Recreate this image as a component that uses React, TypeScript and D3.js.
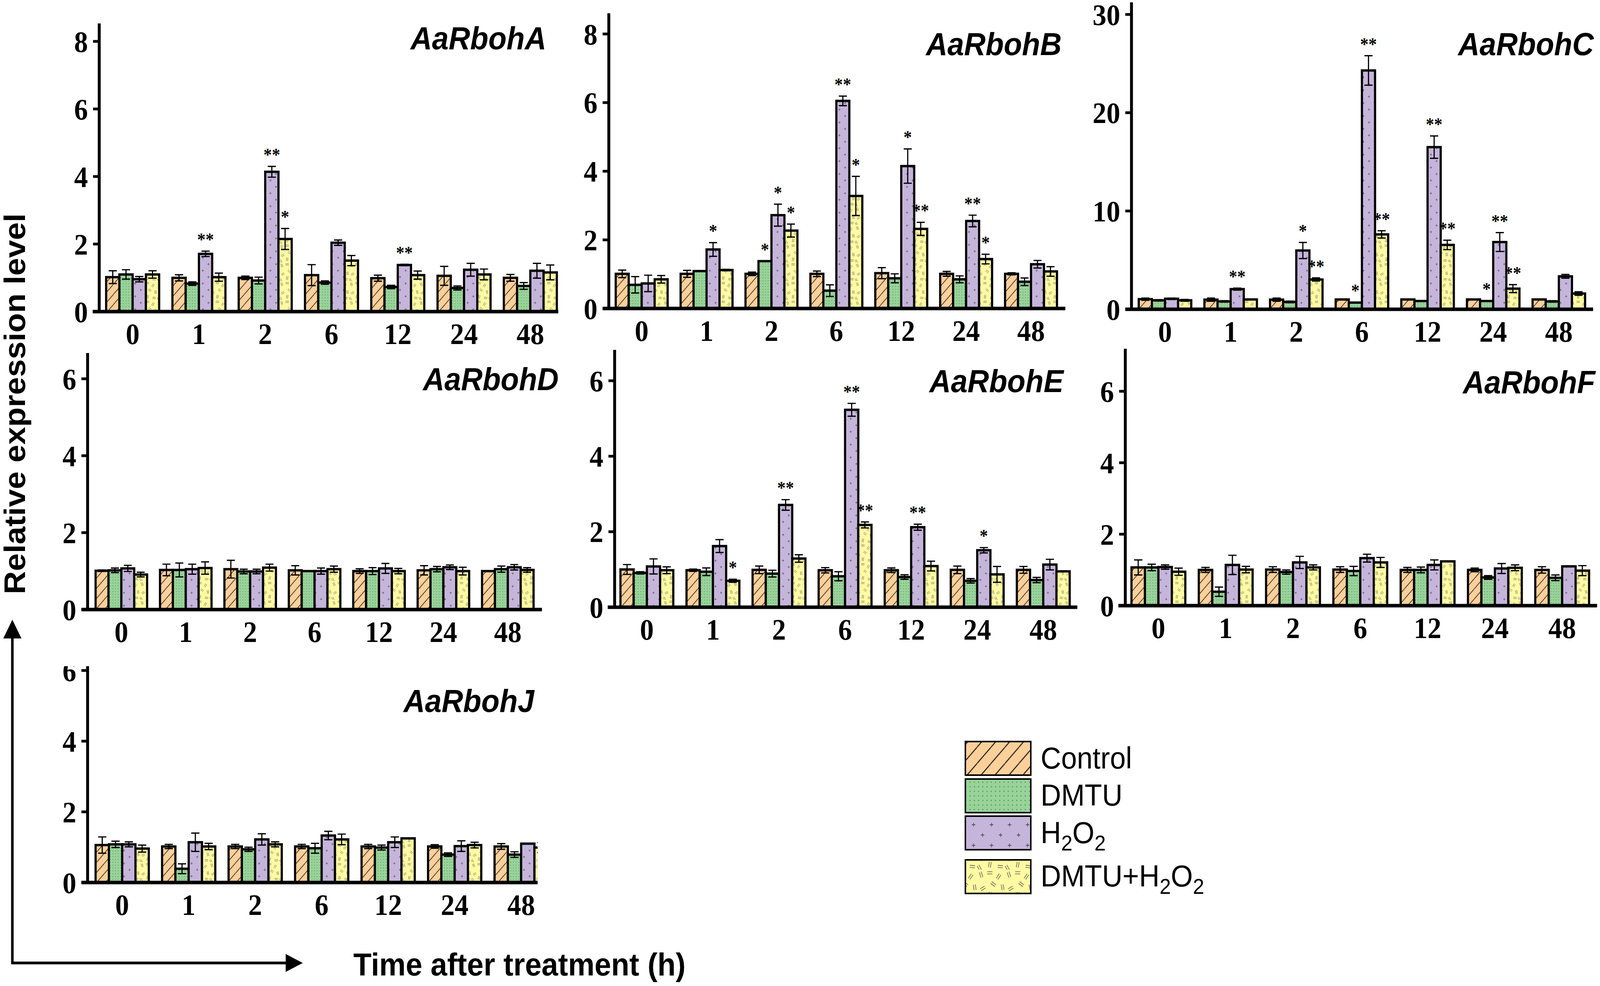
import React from "react";
import * as d3 from "d3";

// ---------- data ----------
const times = ["0", "1", "2", "6", "12", "24", "48"];
const treatments = ["Control", "DMTU", "H2O2", "DMTU+H2O2"];
const yTicksSmall = [0, 2, 4, 6];
const yTicks8 = [0, 2, 4, 6, 8];
const yTicks30 = [0, 10, 20, 30];

// rows: Control, DMTU, H2O2, DMTU+H2O2 ; columns: times
const meanA = [
  [1.02, 1.0, 1.0, 1.08, 0.99, 1.06, 1.0],
  [1.1, 0.83, 0.92, 0.86, 0.73, 0.7, 0.76],
  [0.96, 1.71, 4.14, 2.04, 1.38, 1.24, 1.21],
  [1.1, 1.02, 2.15, 1.51, 1.08, 1.1, 1.16],
];
const errA = [
  [0.19, 0.09, 0.05, 0.31, 0.09, 0.28, 0.1],
  [0.14, 0.05, 0.1, 0.05, 0.05, 0.06, 0.1],
  [0.08, 0.08, 0.16, 0.08, 0.02, 0.19, 0.22],
  [0.11, 0.12, 0.31, 0.15, 0.12, 0.16, 0.22],
];
const sigA = [[1, 2, "**"], [2, 2, "**"], [2, 3, "*"], [4, 2, "**"]];

const meanB = [
  [1.01, 1.01, 1.01, 1.01, 1.03, 1.01, 1.01],
  [0.69, 1.09, 1.38, 0.52, 0.88, 0.85, 0.78],
  [0.73, 1.72, 2.72, 6.05, 4.15, 2.55, 1.29],
  [0.85, 1.12, 2.27, 3.28, 2.32, 1.44, 1.08],
];
const errB = [
  [0.11, 0.1, 0.05, 0.08, 0.16, 0.07, 0.03],
  [0.24, 0.01, 0.0, 0.17, 0.13, 0.1, 0.11],
  [0.24, 0.2, 0.32, 0.14, 0.5, 0.17, 0.11],
  [0.11, 0.02, 0.19, 0.57, 0.19, 0.14, 0.14],
];
const sigB = [
  [1, 2, "*"], [2, 1, "*"], [2, 2, "*"], [2, 3, "*"], [3, 2, "**"], [3, 3, "*"],
  [4, 2, "*"], [4, 3, "**"], [5, 2, "**"], [5, 3, "*"],
];

const meanC = [
  [1.03, 0.98, 0.98, 1.0, 1.0, 1.0, 1.0],
  [0.91, 0.8, 0.75, 0.68, 0.84, 0.84, 0.8],
  [1.07, 2.05, 5.98, 24.3, 16.5, 6.84, 3.35],
  [0.91, 1.0, 3.03, 7.62, 6.55, 2.1, 1.6],
];
const errC = [
  [0.11, 0.16, 0.16, 0.03, 0.03, 0.02, 0.03],
  [0.07, 0.07, 0.08, 0.03, 0.02, 0.05, 0.07],
  [0.07, 0.1, 0.82, 1.5, 1.14, 0.96, 0.19],
  [0.09, 0.02, 0.16, 0.37, 0.48, 0.41, 0.18],
];
const sigC = [
  [1, 2, "**"], [2, 2, "*"], [2, 3, "**"], [3, 1, "*"], [3, 2, "**"], [3, 3, "**"],
  [4, 2, "**"], [4, 3, "**"], [5, 1, "*"], [5, 2, "**"], [5, 3, "**"],
];

const meanD = [
  [1.01, 1.03, 1.05, 1.02, 1.0, 1.02, 1.0],
  [1.02, 1.03, 0.99, 1.0, 1.0, 1.05, 1.05],
  [1.07, 1.05, 0.99, 1.0, 1.07, 1.1, 1.1],
  [0.91, 1.08, 1.09, 1.05, 1.0, 1.0, 1.03],
];
const errD = [
  [0.02, 0.15, 0.23, 0.12, 0.06, 0.12, 0.01],
  [0.06, 0.18, 0.06, 0.01, 0.09, 0.07, 0.08],
  [0.08, 0.13, 0.06, 0.08, 0.13, 0.06, 0.07],
  [0.06, 0.16, 0.09, 0.08, 0.07, 0.1, 0.06],
];
const sigD = [];

const meanE = [
  [1.0, 0.98, 0.99, 0.98, 0.98, 0.99, 0.99],
  [0.91, 0.94, 0.89, 0.82, 0.8, 0.7, 0.72],
  [1.08, 1.62, 2.71, 5.23, 2.12, 1.51, 1.13],
  [0.98, 0.7, 1.29, 2.18, 1.09, 0.87, 0.95],
];
const errE = [
  [0.13, 0.03, 0.1, 0.07, 0.06, 0.1, 0.09],
  [0.03, 0.1, 0.09, 0.12, 0.06, 0.06, 0.07],
  [0.2, 0.17, 0.14, 0.17, 0.08, 0.07, 0.14],
  [0.09, 0.04, 0.1, 0.08, 0.13, 0.21, 0.01],
];
const sigE = [[1, 3, "*"], [2, 2, "**"], [3, 2, "**"], [3, 3, "**"], [4, 2, "**"], [5, 2, "*"]];

const meanF = [
  [1.07, 1.0, 1.01, 1.01, 1.0, 1.0, 1.0],
  [1.07, 0.39, 0.94, 0.97, 1.0, 0.79, 0.78],
  [1.08, 1.14, 1.21, 1.33, 1.14, 1.04, 1.1],
  [0.95, 1.01, 1.07, 1.21, 1.24, 1.06, 0.98],
];
const errF = [
  [0.21, 0.07, 0.08, 0.08, 0.07, 0.05, 0.09],
  [0.09, 0.13, 0.06, 0.13, 0.08, 0.05, 0.08],
  [0.06, 0.27, 0.17, 0.11, 0.14, 0.14, 0.01],
  [0.1, 0.09, 0.07, 0.14, 0.01, 0.08, 0.14],
];
const sigF = [];

const meanJ = [
  [1.06, 1.02, 1.02, 1.02, 1.02, 1.02, 1.02],
  [1.08, 0.39, 0.94, 0.97, 0.99, 0.79, 0.79],
  [1.08, 1.14, 1.22, 1.33, 1.14, 1.03, 1.1],
  [0.96, 1.02, 1.08, 1.22, 1.25, 1.06, 0.99],
];
const errJ = [
  [0.23, 0.06, 0.06, 0.06, 0.06, 0.05, 0.08],
  [0.09, 0.14, 0.06, 0.14, 0.07, 0.05, 0.08],
  [0.07, 0.26, 0.16, 0.12, 0.15, 0.15, 0.01],
  [0.1, 0.09, 0.07, 0.15, 0.01, 0.08, 0.14],
];
const sigJ = [];

const legendLabels = ["Control", "DMTU", "H2O2", "DMTU+H2O2"];

// ---------- layout ----------
const W = 4402;
const H = 2525;
const SERIF = "'Liberation Serif', 'Times New Roman', serif";
const SANS = "'Liberation Sans', Arial, sans-serif";

const panels = [
  { gene: "AaRbohA", mean: meanA, err: errA, sig: sigA, ticks: yTicks8, axisX: 273, axisTop: 60, y0: 798, tickTopPx: 106, gStart: 292, gEnd: 1532, xStart: 255, xEnd: 1536, titleX: 1503, titleY: 126 },
  { gene: "AaRbohB", mean: meanB, err: errB, sig: sigB, ticks: yTicks8, axisX: 1675, axisTop: 34, y0: 790, tickTopPx: 87, gStart: 1694, gEnd: 2908, xStart: 1658, xEnd: 2931, titleX: 2921, titleY: 141 },
  { gene: "AaRbohC", mean: meanC, err: errC, sig: sigC, ticks: yTicks30, axisX: 3113, axisTop: 6, y0: 792, tickTopPx: 37, gStart: 3133, gEnd: 4361, xStart: 3096, xEnd: 4383, titleX: 4385, titleY: 141 },
  { gene: "AaRbohD", mean: meanD, err: errD, sig: sigD, ticks: yTicksSmall, axisX: 241, axisTop: 904, y0: 1561, tickTopPx: 970, gStart: 263, gEnd: 1468, xStart: 224, xEnd: 1491, titleX: 1537, titleY: 999 },
  { gene: "AaRbohE", mean: meanE, err: errE, sig: sigE, ticks: yTicksSmall, axisX: 1691, axisTop: 896, y0: 1555, tickTopPx: 975, gStart: 1707, gEnd: 2943, xStart: 1672, xEnd: 2964, titleX: 2926, titleY: 1004 },
  { gene: "AaRbohF", mean: meanF, err: errF, sig: sigF, ticks: yTicksSmall, axisX: 3096, axisTop: 893, y0: 1551, tickTopPx: 1002, gStart: 3113, gEnd: 4372, xStart: 3077, xEnd: 4394, titleX: 4389, titleY: 1007 },
  { gene: "AaRbohJ", mean: meanJ, err: errJ, sig: sigJ, ticks: yTicksSmall, axisX: 241, axisTop: 1700, y0: 2260, tickTopPx: 1717, gStart: 263, gEnd: 1507, xStart: 224, xEnd: 1510, titleX: 1470, titleY: 1823, clip: "clipJ" },
];

const fillIds = ["pCtrl", "pDmtu", "pH2o2", "pMix"];
const baseColors = ["#FDD09A", "#98D49A", "#C6B5DB", "#FFFBA3"];

function pairPath(cx, cy, ang, len = 9, gap = 1.7) {
  const a = (ang * Math.PI) / 180;
  const dx = (Math.cos(a) * len) / 2;
  const dy = (Math.sin(a) * len) / 2;
  const px = -Math.sin(a) * gap;
  const py = Math.cos(a) * gap;
  return `M${cx - dx + px},${cy - dy + py}L${cx + dx + px},${cy + dy + py}M${cx - dx - px},${cy - dy - py}L${cx + dx - px},${cy + dy - py}`;
}

const mixMarks = [
  [7, 8, 70], [22, 5, 0], [37, 11, 125], [44, 28, 80], [28, 23, 35],
  [10, 30, 150], [22, 40, 100], [40, 43, 5], [4, 45, 60],
];

function Patterns({ suffix, scale }) {
  const t = scale !== 1 ? `scale(${scale})` : undefined;
  const plus = (x, y) => `M${x - 3},${y}L${x + 3},${y}M${x},${y - 3}L${x},${y + 3}`;
  return (
    <>
      <pattern id={`pCtrl${suffix}`} patternUnits="userSpaceOnUse" width={24} height={26} patternTransform={t}>
        <rect width={24} height={26} fill={baseColors[0]} />
        <path d="M0,26L24,0M-24,26L0,0M24,26L48,0" stroke="#1a1a1a" strokeWidth={1.6} />
      </pattern>
      <pattern id={`pDmtu${suffix}`} patternUnits="userSpaceOnUse" width={7.3} height={7.3} patternTransform={t}>
        <rect width={7.3} height={7.3} fill={baseColors[1]} />
        <circle cx={3.65} cy={3.65} r={1.1} fill="#5e8f63" />
      </pattern>
      <pattern id={`pH2o2${suffix}`} patternUnits="userSpaceOnUse" width={31} height={33} patternTransform={t}>
        <rect width={31} height={33} fill={baseColors[2]} />
        <path
          d={[plus(0, 0), plus(31, 0), plus(0, 33), plus(31, 33), plus(15.5, 16.5)].join("")}
          stroke="#4a4a4a"
          strokeWidth={1.1}
        />
      </pattern>
      <pattern id={`pMix${suffix}`} patternUnits="userSpaceOnUse" width={48} height={48} patternTransform={t}>
        <rect width={48} height={48} fill={baseColors[3]} />
        <path d={mixMarks.map((m) => pairPath(m[0], m[1], m[2])).join("")} stroke="#555" strokeWidth={1} />
      </pattern>
    </>
  );
}

function Panel({ p }) {
  const x = d3.scaleBand().domain(times).range([p.gStart, p.gEnd]).paddingInner(0.2).paddingOuter(0);
  const xi = d3.scaleBand().domain(treatments).range([0, x.bandwidth()]);
  const topTick = p.ticks[p.ticks.length - 1];
  const y = d3.scaleLinear().domain([0, topTick]).range([p.y0, p.tickTopPx]);
  const bw = xi.bandwidth();
  const capW = bw * 0.62;

  const bars = [];
  const errs = [];
  treatments.forEach((tr, k) => {
    times.forEach((t, i) => {
      const m = p.mean[k][i];
      const e = p.err[k][i];
      const bx = x(t) + xi(tr);
      const cx = bx + bw / 2;
      bars.push(
        <rect
          key={`b${k}-${i}`}
          x={bx}
          y={y(m)}
          width={bw}
          height={p.y0 - y(m)}
          fill={`url(#${fillIds[k]})`}
          stroke="#000"
          strokeWidth={6}
        />
      );
      const yt = y(m + e);
      const yb = y(Math.max(0, m - e));
      errs.push(
        <path
          key={`e${k}-${i}`}
          d={`M${cx},${yb}L${cx},${yt}M${cx - capW / 2},${yt}L${cx + capW / 2},${yt}M${cx - capW / 2},${yb}L${cx + capW / 2},${yb}`}
          stroke="#000"
          strokeWidth={3.2}
          fill="none"
        />
      );
    });
  });

  const stars = p.sig.map(([i, k, s], j) => {
    const t = times[i];
    const cx = x(t) + xi(treatments[k]) + bw / 2;
    const yt = y(p.mean[k][i] + p.err[k][i]);
    return (
      <text key={`s${j}`} x={cx} y={yt - 14} textAnchor="middle" fontFamily={SERIF} fontWeight="bold" fontSize={46}>
        {s}
      </text>
    );
  });

  return (
    <g clipPath={p.clip ? `url(#${p.clip})` : undefined}>
      {bars}
      {errs}
      {stars}
      {/* y axis */}
      <line x1={p.axisX} x2={p.axisX} y1={p.y0 + 4} y2={p.axisTop} stroke="#000" strokeWidth={8} />
      {p.ticks.map((v) => (
        <g key={`t${v}`}>
          <line x1={p.axisX - 17} x2={p.axisX} y1={y(v)} y2={y(v)} stroke="#000" strokeWidth={7} />
          <text
            x={p.axisX - 31}
            y={y(v)}
            dy="0.35em"
            textAnchor="end"
            fontFamily={SERIF}
            fontWeight="bold"
            fontSize={76}
          >
            {v}
          </text>
        </g>
      ))}
      {/* x axis */}
      <line x1={p.xStart} x2={p.xEnd} y1={p.y0} y2={p.y0} stroke="#000" strokeWidth={9} />
      {times.map((t) => (
        <text
          key={`x${t}`}
          x={x(t) + x.bandwidth() / 2}
          y={p.y0 + 83}
          textAnchor="middle"
          fontFamily={SERIF}
          fontWeight="bold"
          fontSize={76}
        >
          {t}
        </text>
      ))}
      <text
        x={p.titleX}
        y={p.titleY}
        textAnchor="end"
        fontFamily={SANS}
        fontWeight="bold"
        fontStyle="italic"
        fontSize={82}
      >
        {p.gene}
      </text>
    </g>
  );
}

function LegendLabel({ label, x, y }) {
  if (label === "H2O2" || label === "DMTU+H2O2") {
    const pre = label === "H2O2" ? "" : "DMTU+";
    return (
      <text x={x} y={y} fontFamily={SANS} fontSize={78}>
        {pre}H
        <tspan fontSize={56} dy={19}>2</tspan>
        <tspan dy={-19}>O</tspan>
        <tspan fontSize={56} dy={19}>2</tspan>
      </text>
    );
  }
  return (
    <text x={x} y={y} fontFamily={SANS} fontSize={78}>
      {label}
    </text>
  );
}

export default function App() {
  const legendTops = [1899, 1995, 2090, 2202];
  const legendBase = [1968, 2063, 2159, 2270];
  return (
    <svg
      viewBox={`0 0 ${W} ${H}`}
      preserveAspectRatio="none"
      style={{ position: "fixed", left: 0, top: 0, width: "100vw", height: "100vh", display: "block", background: "#fff" }}
    >
      <defs>
        <Patterns suffix="" scale={1} />
        <Patterns suffix="L" scale={1.6} />
        <clipPath id="clipJ">
          <rect x={0} y={1706} width={1479} height={H - 1706} />
        </clipPath>
      </defs>
      <rect width={W} height={H} fill="#fff" />
      {panels.map((p) => (
        <Panel key={p.gene} p={p} />
      ))}

      {/* y axis label */}
      <text
        transform="translate(69,1034) rotate(-90)"
        textAnchor="middle"
        fontFamily={SANS}
        fontWeight="bold"
        fontSize={82}
      >
        Relative expression level
      </text>

      {/* L-shaped arrows */}
      <path d="M34,1630L34,2466L790,2466" stroke="#000" strokeWidth={7} fill="none" />
      <path d="M34,1587L9,1635L59,1635Z" fill="#000" />
      <path d="M833,2466L786,2443L786,2489Z" fill="#000" />
      <text x={972} y={2498} fontFamily={SANS} fontWeight="bold" fontSize={82}>
        Time after treatment (h)
      </text>

      {/* legend */}
      {legendLabels.map((l, i) => (
        <g key={l}>
          <rect
            x={2656}
            y={legendTops[i]}
            width={180}
            height={86}
            fill={`url(#${fillIds[i]}L)`}
            stroke="#000"
            strokeWidth={4}
          />
          <LegendLabel label={l} x={2863} y={legendBase[i]} />
        </g>
      ))}
    </svg>
  );
}
